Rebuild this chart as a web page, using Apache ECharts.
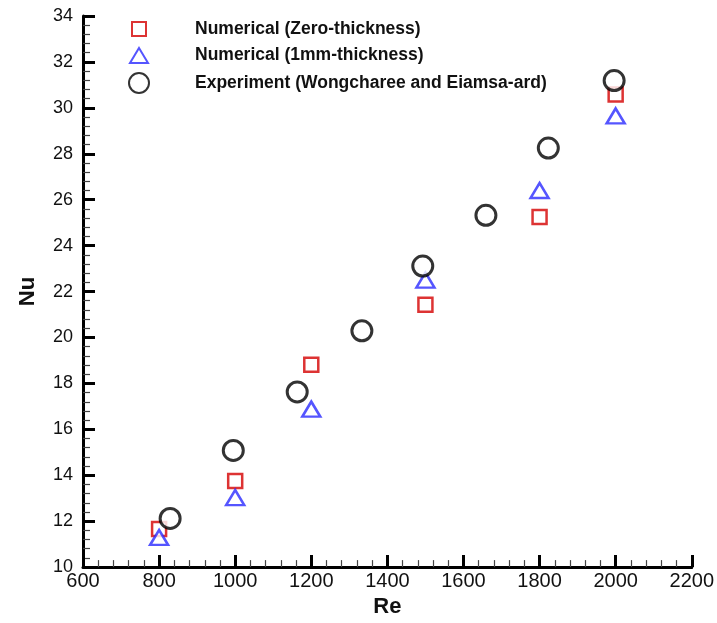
<!DOCTYPE html>
<html>
<head>
<meta charset="utf-8">
<script src="https://cdn.jsdelivr.net/npm/echarts@6/dist/echarts.min.js"></script>
<style>html,body{margin:0;padding:0;background:#fff;overflow:hidden}#c{position:absolute;left:0;top:0;width:717px;height:623px}</style>
</head>
<body>
<div id="c"></div>
<script>
const zeroRe = [800, 1000, 1200, 1500, 1800, 2000];
const zeroNu = [11.66, 13.75, 18.81, 21.42, 25.25, 30.58];
const mmRe = [800, 1000, 1200, 1500, 1800, 2000];
const mmNu = [11.29, 13.03, 16.88, 22.5, 26.4, 29.65];
const expRe = [829, 995, 1163, 1333, 1493, 1659, 1823, 1996];
const expNu = [12.12, 15.08, 17.63, 20.29, 23.11, 25.32, 28.25, 31.19];
const names = ['Numerical (Zero-thickness)', 'Numerical (1mm-thickness)', 'Experiment (Wongcharee and Eiamsa-ard)'];

const zip = (a, b) => a.map((v, i) => [v, b[i]]);
const chart = echarts.init(document.getElementById('c'), null, { width: 717, height: 623 });
const FONT = '"Liberation Sans", Arial, sans-serif';
function legendAt(name, top, w, h) {
  return {
    data: [name], left: 138 - w / 2, top: top - h / 2, itemWidth: w, itemHeight: h,
    padding: 0, orient: 'vertical', selectedMode: false,
    textStyle: { fontFamily: FONT, fontWeight: 'bold', fontSize: 17.5, color: '#111', padding: [0, 0, 0, 56 - w / 2 - 5] }
  };
}
const axisCommon = {
  axisLine: { show: true, onZero: false, lineStyle: { color: '#000', width: 3 } },
  axisTick: { show: true, inside: true, length: 12, lineStyle: { color: '#000', width: 3 } },
  minorTick: { show: true, splitNumber: 5, length: 7, lineStyle: { color: '#444', width: 1.2 } },
  splitLine: { show: false },
  axisLabel: { fontFamily: FONT, fontSize: 18, color: '#111', formatter: v => String(v) },
  nameTextStyle: { fontFamily: FONT, fontWeight: 'bold', fontSize: 22, color: '#111' }
};
chart.setOption({
  animation: false,
  backgroundColor: '#fff',
  grid: { left: 83, right: 25, top: 16, bottom: 50 },
  legend: [
    legendAt(names[0], 27, 14, 14),
    legendAt(names[1], 54, 18, 15),
    legendAt(names[2], 82, 20, 20)
  ],
  xAxis: Object.assign({}, axisCommon, {
    type: 'value', min: 600, max: 2200, interval: 200,
    name: 'Re', nameLocation: 'middle', nameGap: 23,
    axisLabel: Object.assign({}, axisCommon.axisLabel, { margin: 4, fontSize: 20 })
  }),
  yAxis: Object.assign({}, axisCommon, {
    type: 'value', min: 10, max: 34, interval: 2,
    name: 'Nu', nameLocation: 'middle', nameGap: 44,
    axisLabel: Object.assign({}, axisCommon.axisLabel, { margin: 10 })
  }),
  series: [
    { name: names[0], type: 'scatter', symbol: 'rect', symbolSize: 14, data: zip(zeroRe, zeroNu),
      itemStyle: { color: '#fff', borderColor: '#d40000', borderWidth: 2.5 } },
    { name: names[1], type: 'scatter', symbol: 'triangle', symbolSize: [18, 15], data: zip(mmRe, mmNu),
      itemStyle: { color: '#fff', borderColor: '#2a2aff', borderWidth: 2.5 } },
    { name: names[2], type: 'scatter', symbol: 'circle', symbolSize: 20, data: zip(expRe, expNu),
      itemStyle: { color: '#fff', borderColor: '#000', borderWidth: 3 } }
  ]
});
</script>
</body>
</html>
